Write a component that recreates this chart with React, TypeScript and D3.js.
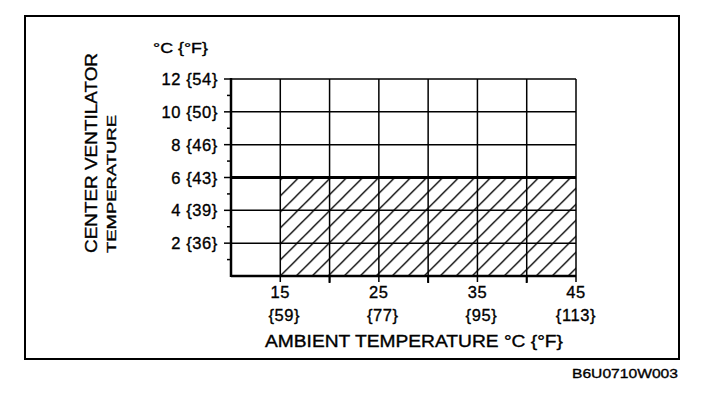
import React from "react";
import * as d3 from "d3";

const yTicksC = [2, 4, 6, 8, 10, 12];
const yTicksF = ["{36}", "{39}", "{43}", "{46}", "{50}", "{54}"];
const yMinor = [1, 3, 5, 7, 9, 11];
const xTicksC = [15, 25, 35, 45];
const xTicksF = ["{59}", "{77}", "{95}", "{113}"];
const xGrid = [15, 20, 25, 30, 35, 40, 45];
const xMinor = [20, 30, 40];
const bandStart = 15;
const bandEnd = 45;
const bandTemp = 6;

const yTitle1 = "CENTER VENTILATOR";
const yTitle2 = "TEMPERATURE";
const xTitle = "AMBIENT TEMPERATURE °C {°F}";
const unitLabel = "°C {°F}";
const code = "B6U0710W003";

export default function App() {
  const x = d3.scaleLinear().domain([10, 45]).range([231, 576]);
  const y = d3.scaleLinear().domain([0, 12]).range([276, 79]);
  const font = "'Liberation Sans', Arial, Helvetica, sans-serif";
  const x0 = x(10), x1 = x(45), y0 = y(0), y1 = y(12);
  const hx0 = x(bandStart), hx1 = x(bandEnd), hy = y(bandTemp);
  const ts = { stroke: "#000", strokeWidth: 0.35 };

  return (
    <svg width={704} height={398} style={{ position: "absolute", left: 0, top: 0, background: "#fff" }}
      fontFamily={font} fill="#000">
      <defs>
        <pattern id="hatch" patternUnits="userSpaceOnUse" width={16} height={16} x={hx0} y={y0}>
          <line x1={0} y1={16} x2={16} y2={0} stroke="#000" strokeWidth={1.3} />
          <line x1={-4} y1={4} x2={4} y2={-4} stroke="#000" strokeWidth={1.3} />
          <line x1={12} y1={20} x2={20} y2={12} stroke="#000" strokeWidth={1.3} />
        </pattern>
      </defs>
      <rect x={0} y={0} width={704} height={398} fill="#fff" />
      {/* outer frame */}
      <rect x={25} y={16} width={654} height={343} fill="none" stroke="#000" strokeWidth={2} />

      {/* hatched region */}
      <rect x={hx0} y={hy} width={hx1 - hx0} height={y0 - hy} fill="url(#hatch)" />

      {/* horizontal grid */}
      {yTicksC.map((v) => (
        <line key={"hg" + v} x1={x0} x2={x1} y1={y(v)} y2={y(v)} stroke="#000"
          strokeWidth={v === bandTemp ? 3 : 1.5} />
      ))}
      {/* vertical grid */}
      {xGrid.map((v) => (
        <line key={"vg" + v} x1={x(v)} x2={x(v)} y1={y0 + 6} y2={y1} stroke="#000" strokeWidth={1.5} />
      ))}
      {/* axes */}
      <line x1={x0} x2={x0} y1={y1 - 1} y2={y0 + 1} stroke="#000" strokeWidth={2.5} />
      <line x1={x0} x2={x1} y1={y0} y2={y0} stroke="#000" strokeWidth={2.5} />
      {/* y ticks */}
      {yTicksC.map((v) => (
        <line key={"yt" + v} x1={x0 - 7} x2={x0} y1={y(v)} y2={y(v)} stroke="#000" strokeWidth={1.5} />
      ))}
      {yMinor.map((v) => (
        <line key={"ym" + v} x1={x0 - 4} x2={x0} y1={y(v)} y2={y(v)} stroke="#000" strokeWidth={1.5} />
      ))}
      {xMinor.map((v) => (
        <line key={"xm" + v} x1={x(v)} x2={x(v)} y1={y0} y2={y0 + 7} stroke="#000" strokeWidth={2} />
      ))}

      {/* y tick labels */}
      {yTicksC.map((v, i) => (
        <text key={"yl" + v} x={x0 - 13} y={y(v) + 6} fontSize={16.5} textAnchor="end" letterSpacing={0.6} {...ts}>
          {v + " " + yTicksF[i]}
        </text>
      ))}
      <text x={153} y={53} fontSize={15.5} textLength={55} lengthAdjust="spacingAndGlyphs" {...ts}>{unitLabel}</text>

      {/* x tick labels */}
      {xTicksC.map((v, i) => (
        <g key={"xl" + v}>
          <text x={x(v)} y={298} fontSize={16.5} textAnchor="middle" letterSpacing={0.6} {...ts}>{String(v)}</text>
          <text x={x(v) + (i < 3 ? 4 : 0)} y={321} fontSize={16.5} textAnchor="middle" letterSpacing={0.6} {...ts}>{xTicksF[i]}</text>
        </g>
      ))}
      <text x={265} y={347} fontSize={16.5} textLength={298} lengthAdjust="spacingAndGlyphs" {...ts}>{xTitle}</text>

      {/* y title */}
      <text transform="translate(97,253) rotate(-90)" fontSize={16.5} textLength={200} lengthAdjust="spacingAndGlyphs" {...ts}>{yTitle1}</text>
      <text transform="translate(116,253) rotate(-90)" fontSize={13.5} textLength={138} lengthAdjust="spacingAndGlyphs" {...ts}>{yTitle2}</text>

      <text x={678} y={378} fontSize={13.5} textAnchor="end" textLength={106} lengthAdjust="spacingAndGlyphs" {...ts}>{code}</text>
    </svg>
  );
}
